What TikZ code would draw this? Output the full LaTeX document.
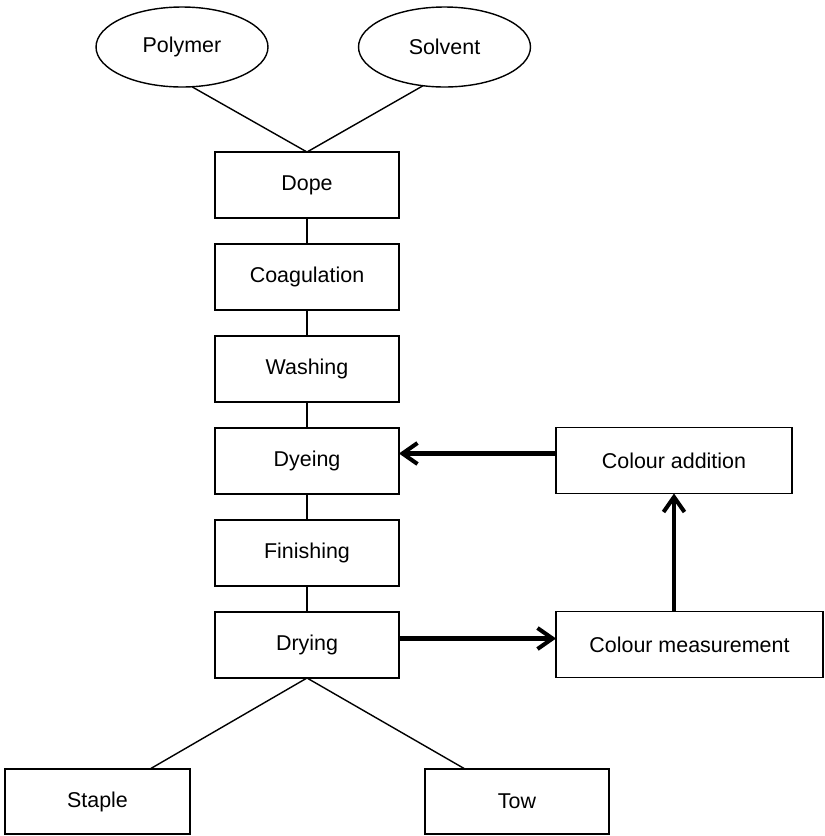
\documentclass[tikz,border=0pt]{standalone}
\usepackage{fontspec}
\setmainfont{Liberation Sans}
\usetikzlibrary{shapes.geometric,arrows.meta}

\begin{document}
\begin{tikzpicture}
    [
        x=0.02cm, y=-0.02cm,
        every node/.style={font=\fontsize{12.2}{14}\selectfont, inner sep=0pt, outer sep=0pt},
        stage/.style={draw, rectangle, line width=0.8pt, minimum width=3.68cm, minimum height=1.32cm},
        feed/.style={draw, ellipse, line width=0.8pt, minimum width=3.44cm, minimum height=1.6cm},
        link/.style={line width=0.8pt},
        flow/.style={line width=2.3pt, -{Straight Barb[length=0.3cm, width=0.42cm]}},
    ]
    \useasboundingbox (0, 0) rectangle (825, 836);

    % raw materials
    \node [feed] (polymer) at (182, 47) {Polymer};
    \node [feed] (solvent) at (444.5, 47) {Solvent};

    % main process line
    \foreach \name/\txt/\y in
    {dope/Dope/185, coag/Coagulation/277, wash/Washing/369,
     dye/Dyeing/461, finish/Finishing/553, dry/Drying/645}
    {
        \node [stage] (\name) at (307, \y) {\txt};
    }
    \foreach \a/\b in {dope/coag, coag/wash, wash/dye, dye/finish, finish/dry} {
        \draw [link] (\a) -- (\b);
    }

    % colour control loop
    \node [stage, minimum width=4.72cm] (addition) at (674, 460.5) {Colour addition};
    \node [stage, minimum width=5.34cm] (measure) at (689.5, 644.5) {Colour measurement};

    % products
    \node [stage, minimum width=3.7cm, minimum height=1.3cm] (staple) at (97.5, 801.5) {Staple};
    \node [stage, minimum height=1.3cm] (tow) at (517, 801.5) {Tow};

    \draw [link] (polymer.284) -- (dope.north);
    \draw [link] (solvent.241) -- (dope.north);
    \draw [link] (dry.south) -- ([xshift=1.05cm]staple.north);
    \draw [link] (dry.south) -- ([xshift=-1.04cm]tow.north);

    \draw [flow] ([yshift=0.14cm]addition.west) -- ([yshift=0.14cm]addition.west -| dye.east);
    \draw [flow] ([yshift=0.13cm]dry.east) -- ([yshift=0.13cm]dry.east -| measure.west);
    \draw [flow] (addition.south |- measure.north) -- (addition.south);
\end{tikzpicture}
\end{document}
